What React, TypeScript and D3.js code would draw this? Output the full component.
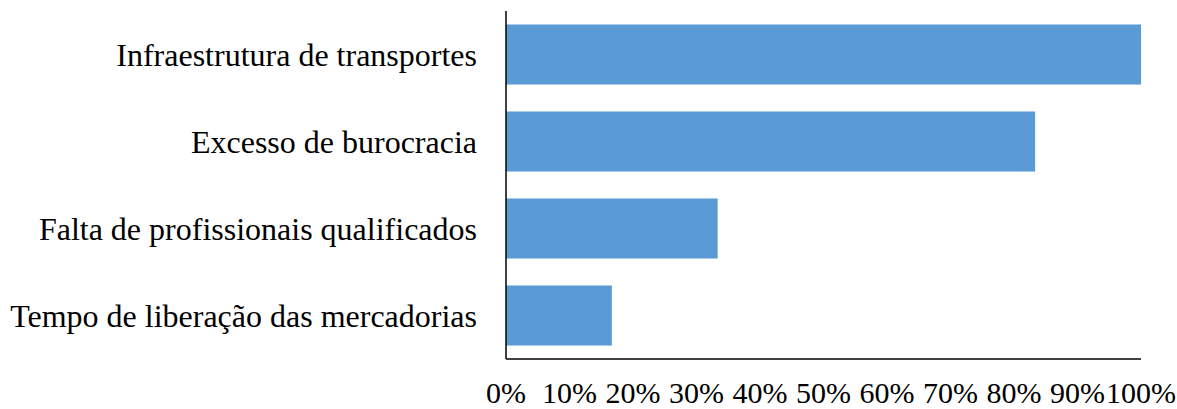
import React from "react";
import * as d3 from "d3";

const categories = [
  "Infraestrutura de transportes",
  "Excesso de burocracia",
  "Falta de profissionais qualificados",
  "Tempo de liberação das mercadorias",
];
const values = [1.0, 0.8333, 0.3333, 0.1667];
const ticks = [0, 0.1, 0.2, 0.3, 0.4, 0.5, 0.6, 0.7, 0.8, 0.9, 1.0];

const W = 1177;
const H = 409;
const left = 506;
const right = 1141;
const top = 11;
const bottom = 359;
const FONT = "'Liberation Serif', 'Times New Roman', serif";

export default function App() {
  const x = d3.scaleLinear().domain([0, 1]).range([left, right]);
  const y = d3.scaleBand<string>().domain(categories).range([top, bottom]).paddingInner(0.31).paddingOuter(0.155);
  const fmt = d3.format(".0%");
  return (
    <svg width={W} height={H} style={{ position: "absolute", left: 0, top: 0, background: "#fff" }}>
      {categories.map((c, i) => (
        <rect key={c} x={x(0)} y={y(c)} width={x(values[i]) - x(0)} height={y.bandwidth()} fill="#5B9BD5" />
      ))}
      <line x1={left} x2={left} y1={top} y2={bottom} stroke="#000" strokeWidth={1.5} />
      <line x1={left} x2={right} y1={bottom} y2={bottom} stroke="#000" strokeWidth={1.5} />
      {categories.map((c) => (
        <text key={c} x={477} y={(y(c) as number) + y.bandwidth() / 2} dy="0.35em" textAnchor="end"
          fontFamily={FONT} fontSize={32} fill="#000">{c}</text>
      ))}
      {ticks.map((t) => (
        <text key={t} x={x(t)} y={403} textAnchor="middle" fontFamily={FONT} fontSize={30} fill="#000">{fmt(t)}</text>
      ))}
    </svg>
  );
}
